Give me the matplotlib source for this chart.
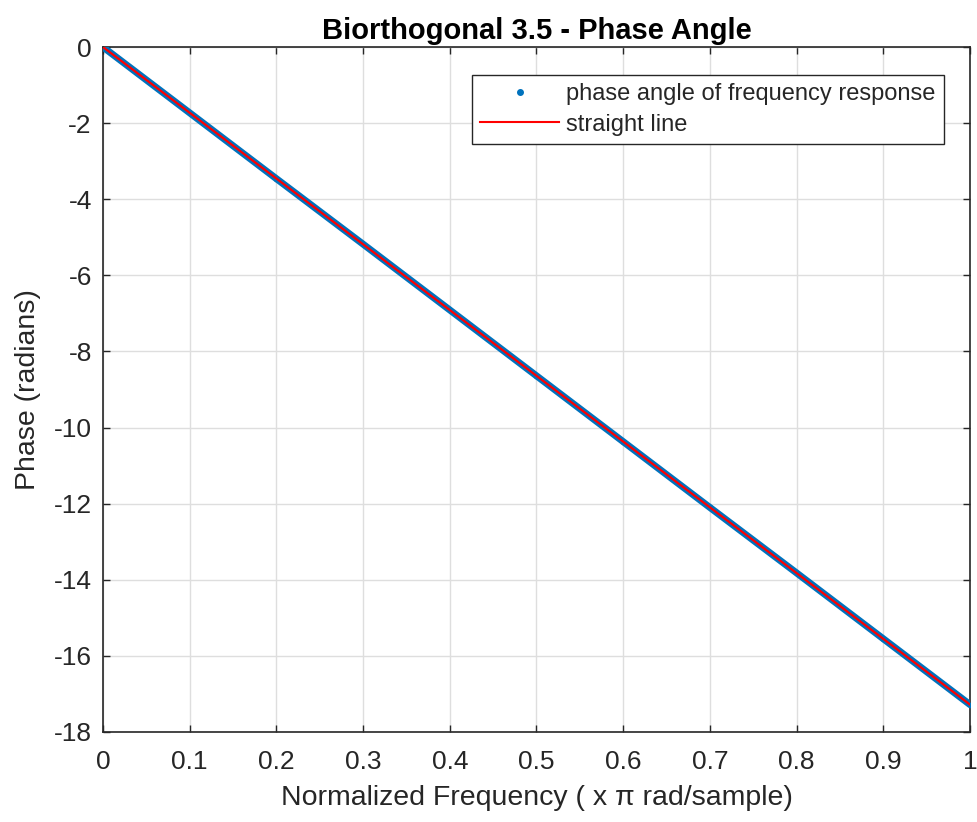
import matplotlib.pyplot as plt
from matplotlib.lines import Line2D

plt.rcParams["font.family"] = ["Liberation Sans", "DejaVu Sans"]
plt.rcParams["axes.unicode_minus"] = False

# normalized frequency (x pi rad/sample) and phase
FREQ = [0.0, 0.1, 0.2, 0.3, 0.4, 0.5, 0.6, 0.7, 0.8, 0.9, 1.0]
PHASE = [0.0, -1.73, -3.46, -5.18, -6.91, -8.64, -10.37, -12.10, -13.82, -15.55, -17.28]

# straight reference line endpoints
LINE_X = [0.0, 1.0]
LINE_Y = [0.0, -17.28]

X_TICKS = [0, 0.1, 0.2, 0.3, 0.4, 0.5, 0.6, 0.7, 0.8, 0.9, 1]
X_LABELS = ["0", "0.1", "0.2", "0.3", "0.4", "0.5", "0.6", "0.7", "0.8", "0.9", "1"]
Y_TICKS = list(range(-18, 1, 2))

BLUE = "#0072BD"
RED = "#FF0000"
DARK = "#262626"

fig = plt.figure(figsize=(9.78, 8.22), dpi=100)
ax = fig.add_axes([0.1053, 0.1095, 0.8865, 0.8333])

ax.plot(FREQ, PHASE, color=BLUE, lw=5, solid_capstyle="round", zorder=3)
ax.plot(FREQ, PHASE, ".", color=BLUE, ms=6, zorder=3)
ax.plot(LINE_X, LINE_Y, color=RED, lw=1.6, zorder=4)

ax.set_xlim(0, 1)
ax.set_ylim(-18, 0)
ax.set_xticks(X_TICKS)
ax.set_xticklabels(X_LABELS)
ax.set_yticks(Y_TICKS)
ax.grid(True, color="#dedede", lw=1)
ax.set_axisbelow(True)
ax.tick_params(direction="in", top=True, right=True, length=5, width=1,
               colors=DARK, labelsize=19)
ax.tick_params(axis="x", pad=13)
ax.tick_params(axis="y", pad=8)
for sp in ax.spines.values():
    sp.set_color(DARK)
    sp.set_linewidth(1.2)

ax.set_xlabel("Normalized Frequency ( x π rad/sample)", fontsize=20.5,
              color=DARK, labelpad=8)
ax.set_ylabel("Phase (radians)", fontsize=20.5, color=DARK, labelpad=9)
ax.set_title("Biorthogonal 3.5 - Phase Angle", fontsize=21, fontweight="bold",
             color="black", pad=6)

handles = [
    Line2D([], [], color=BLUE, marker=".", ls="none", ms=8),
    Line2D([], [], color=RED, lw=1.5),
]
leg = ax.legend(handles, ["phase angle of frequency response", "straight line"],
                loc="upper right", bbox_to_anchor=(0.970, 0.959), fontsize=17,
                fancybox=False, framealpha=1, edgecolor=DARK, handlelength=3.35,
                borderpad=0.35, labelspacing=0.35, handletextpad=0.3,
                borderaxespad=0)
leg.get_frame().set_linewidth(1)
for t in leg.get_texts():
    t.set_color(DARK)

fig.savefig("out.png", dpi=100)
